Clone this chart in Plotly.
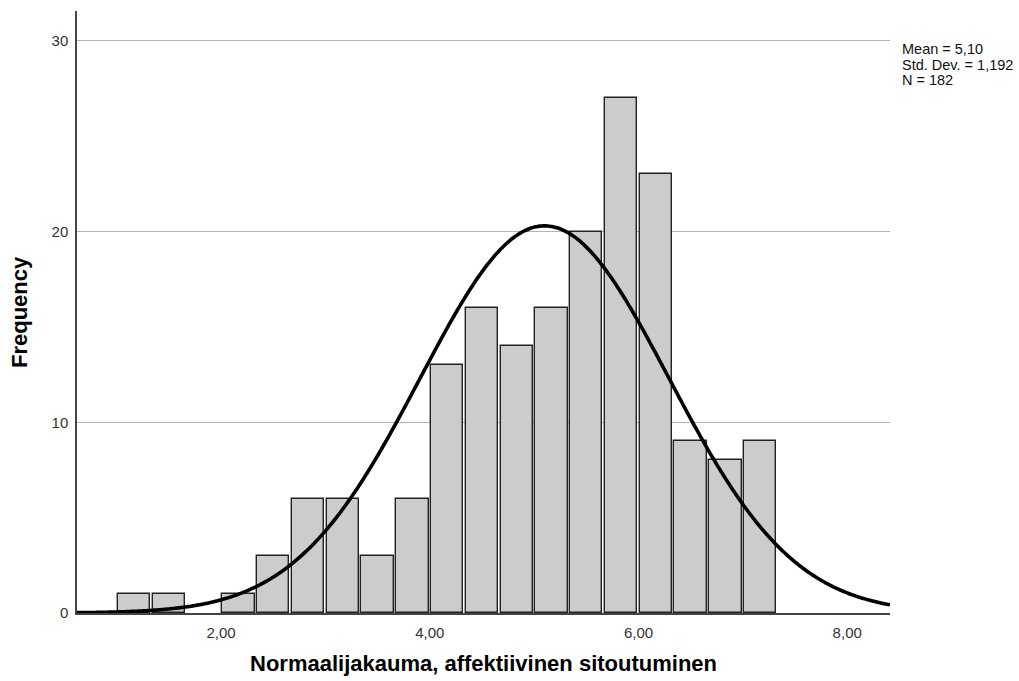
import numpy as np
import plotly.graph_objects as go

# ---- data ----
bin_start = 1.0
bin_width = 1.0 / 3.0
counts = [1, 1, 0, 1, 3, 6, 6, 3, 6, 13, 16, 14, 16, 20, 27, 23, 9, 8, 9]
mean_val = 5.10
std_val = 1.192
n_val = 182
x_tickvals = [2, 4, 6, 8]
x_ticktext = ["2,00", "4,00", "6,00", "8,00"]
y_tickvals = [0, 10, 20, 30]
y_ticktext = ["0", "10", "20", "30"]
stats_lines = ["Mean = 5,10", "Std. Dev. = 1,192", "N = 182"]
x_title = "Normaalijakauma, affektiivinen sitoutuminen"
y_title = "Frequency"

x_range = [0.62, 8.41]
y_range = [0, 31.57]

centers = [bin_start + bin_width * (i + 0.5) for i in range(len(counts))]
edge_widths = [1.4 if c > 0 else 0 for c in counts]

# fitted normal curve (as drawn by the histogram's normal overlay)
xc = np.linspace(x_range[0], x_range[1], 400)
yc = n_val * bin_width / (std_val * np.sqrt(2 * np.pi)) * np.exp(-0.5 * ((xc - mean_val) / std_val) ** 2)

FONT = "Liberation Sans, Arial, sans-serif"

fig = go.Figure()
fig.add_trace(go.Bar(
    x=centers, y=counts, width=bin_width * 0.93,
    marker=dict(color="#cccccc", line=dict(color="#222222", width=edge_widths)),
    hoverinfo="x+y", showlegend=False,
))
fig.add_trace(go.Scatter(
    x=xc, y=yc, mode="lines",
    line=dict(color="#000000", width=3.6, shape="spline"),
    hoverinfo="skip", showlegend=False,
))

L, R, T, B = 77, 129, 11, 68
W, H = 1019, 681
pw = W - L - R
ph = H - T - B

def px_to_paper_x(px):
    return (px - L) / pw

def px_to_paper_y(py):
    return (H - B - py) / ph

annotations = []
for txt, py in zip(stats_lines, [49, 64.5, 80.5]):
    annotations.append(dict(
        text=txt, x=px_to_paper_x(900), y=px_to_paper_y(py), xref="paper", yref="paper",
        xanchor="left", yanchor="middle", showarrow=False,
        font=dict(family=FONT, size=14.5, color="#111111"),
    ))
annotations.append(dict(
    text=x_title, x=px_to_paper_x(483), y=px_to_paper_y(663), xref="paper", yref="paper",
    xanchor="center", yanchor="middle", showarrow=False,
    font=dict(family=FONT, size=22, color="#000000", weight="bold"),
))
annotations.append(dict(
    text=y_title, x=px_to_paper_x(19), y=px_to_paper_y(312), xref="paper", yref="paper",
    xanchor="center", yanchor="middle", showarrow=False, textangle=-90,
    font=dict(family=FONT, size=22, color="#000000", weight="bold"),
))

fig.update_layout(
    width=W, height=H,
    margin=dict(l=L, r=R, t=T, b=B, pad=0),
    paper_bgcolor="white", plot_bgcolor="white",
    bargap=0,
    annotations=annotations,
    font=dict(family=FONT),
)
fig.update_xaxes(
    range=x_range, tickvals=x_tickvals, ticktext=x_ticktext,
    showgrid=False, zeroline=False, showline=True, linecolor="#444444", linewidth=1.5,
    ticks="outside", ticklen=5, tickcolor="rgba(0,0,0,0)",
    tickfont=dict(family=FONT, size=15, color="#333333"),
)
fig.update_yaxes(
    range=y_range, tickvals=y_tickvals, ticktext=y_ticktext,
    showgrid=True, gridcolor="#b4b4b4", gridwidth=1, zeroline=False,
    showline=True, linecolor="#444444", linewidth=1.5,
    ticks="outside", ticklen=4, tickcolor="rgba(0,0,0,0)",
    tickfont=dict(family=FONT, size=15, color="#333333"),
)

fig.write_html(
    "out.html",
    config={"displayModeBar": False},
    post_script="document.body.style.margin='0';document.body.style.overflow='hidden';",
)
